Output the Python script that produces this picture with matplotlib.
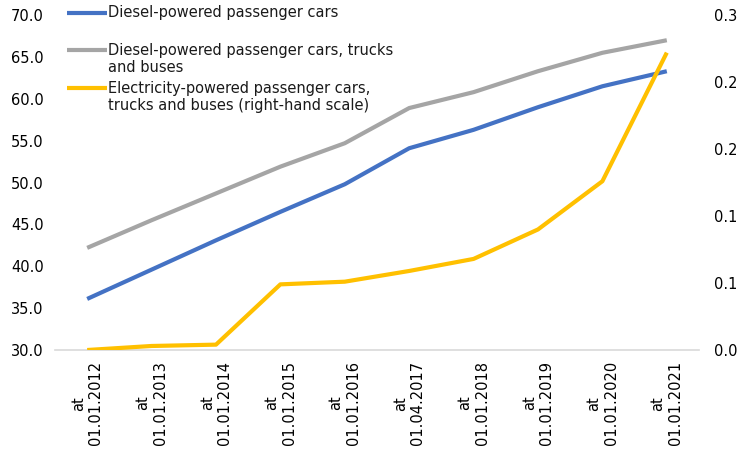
import math
import matplotlib
matplotlib.use("Agg")
import matplotlib.pyplot as plt
from matplotlib.lines import Line2D
from matplotlib.ticker import FuncFormatter

dates = ["01.01.2012", "01.01.2013", "01.01.2014", "01.01.2015", "01.01.2016",
         "01.04.2017", "01.01.2018", "01.01.2019", "01.01.2020", "01.01.2021"]
diesel_cars = [36.1, 39.6, 43.1, 46.5, 49.8, 54.1, 56.3, 59.0, 61.5, 63.3]
diesel_all = [42.2, 45.5, 48.7, 51.9, 54.7, 58.9, 60.8, 63.3, 65.5, 67.0]
electric_all = [0.000, 0.003, 0.004, 0.049, 0.051, 0.059, 0.068, 0.090, 0.126, 0.222]

series_names = [["Diesel-powered passenger cars"],
                ["Diesel-powered passenger cars, trucks", "and buses"],
                ["Electricity-powered passenger cars,",
                 "trucks and buses (right-hand scale)"]]
colors = ["#4472C4", "#A5A5A5", "#FFC000"]

labels = ["at\n" + d for d in dates]
x = list(range(len(dates)))


def one_decimal(v, pos):
    # Excel style: round half up
    return "%.1f" % (math.floor(v * 10 + 0.5 + 1e-9) / 10)


plt.rcParams['font.family'] = ['DejaVu Sans']
W, H = 750, 458
fig = plt.figure(figsize=(W / 100, H / 100), dpi=100)
ax = fig.add_axes([0.0733, 0.2358, 0.8587, 0.7312])
ax2 = ax.twinx()

ax.plot(x, diesel_cars, color=colors[0], lw=3, solid_capstyle="butt")
ax.plot(x, diesel_all, color=colors[1], lw=3, solid_capstyle="butt")
ax2.plot(x, electric_all, color=colors[2], lw=3, solid_capstyle="butt")

ax.set_xlim(-0.5, len(dates) - 0.5)
ax.set_ylim(30, 70)
ax.set_yticks(range(30, 71, 5))
ax.yaxis.set_major_formatter(FuncFormatter(one_decimal))
ax2.set_ylim(0, 0.25)
ax2.set_yticks([0, 0.05, 0.10, 0.15, 0.20, 0.25])
ax2.yaxis.set_major_formatter(FuncFormatter(one_decimal))

ax.set_xticks(x)
ax.set_xticklabels(labels, rotation=90, ha="center", va="top",
                   multialignment="center")

for a in (ax, ax2):
    for s in a.spines.values():
        s.set_visible(False)
    a.tick_params(length=0, labelsize=10.5, colors="#000000")
ax.spines["bottom"].set_visible(True)
ax.spines["bottom"].set_color("#D9D9D9")
ax.spines["bottom"].set_linewidth(1.2)
ax.tick_params(axis="y", pad=8)
ax.tick_params(axis="x", pad=8)
ax2.tick_params(axis="y", pad=11)

# legend drawn by hand: handle aligned with first text line, like Excel
entry_top = [13, 50, 88]
for names, col, yt in zip(series_names, colors, entry_top):
    fy = 1 - yt / H
    fig.add_artist(Line2D([67 / W, 107 / W], [fy, fy], color=col, lw=3,
                          solid_capstyle="butt", transform=fig.transFigure))
    for i, line in enumerate(names):
        fig.text(108 / W, 1 - (yt + i * 17.5) / H, line, fontsize=10.5,
                 color="#1a1a1a", va="center", ha="left")

fig.savefig("out.png", dpi=100)
